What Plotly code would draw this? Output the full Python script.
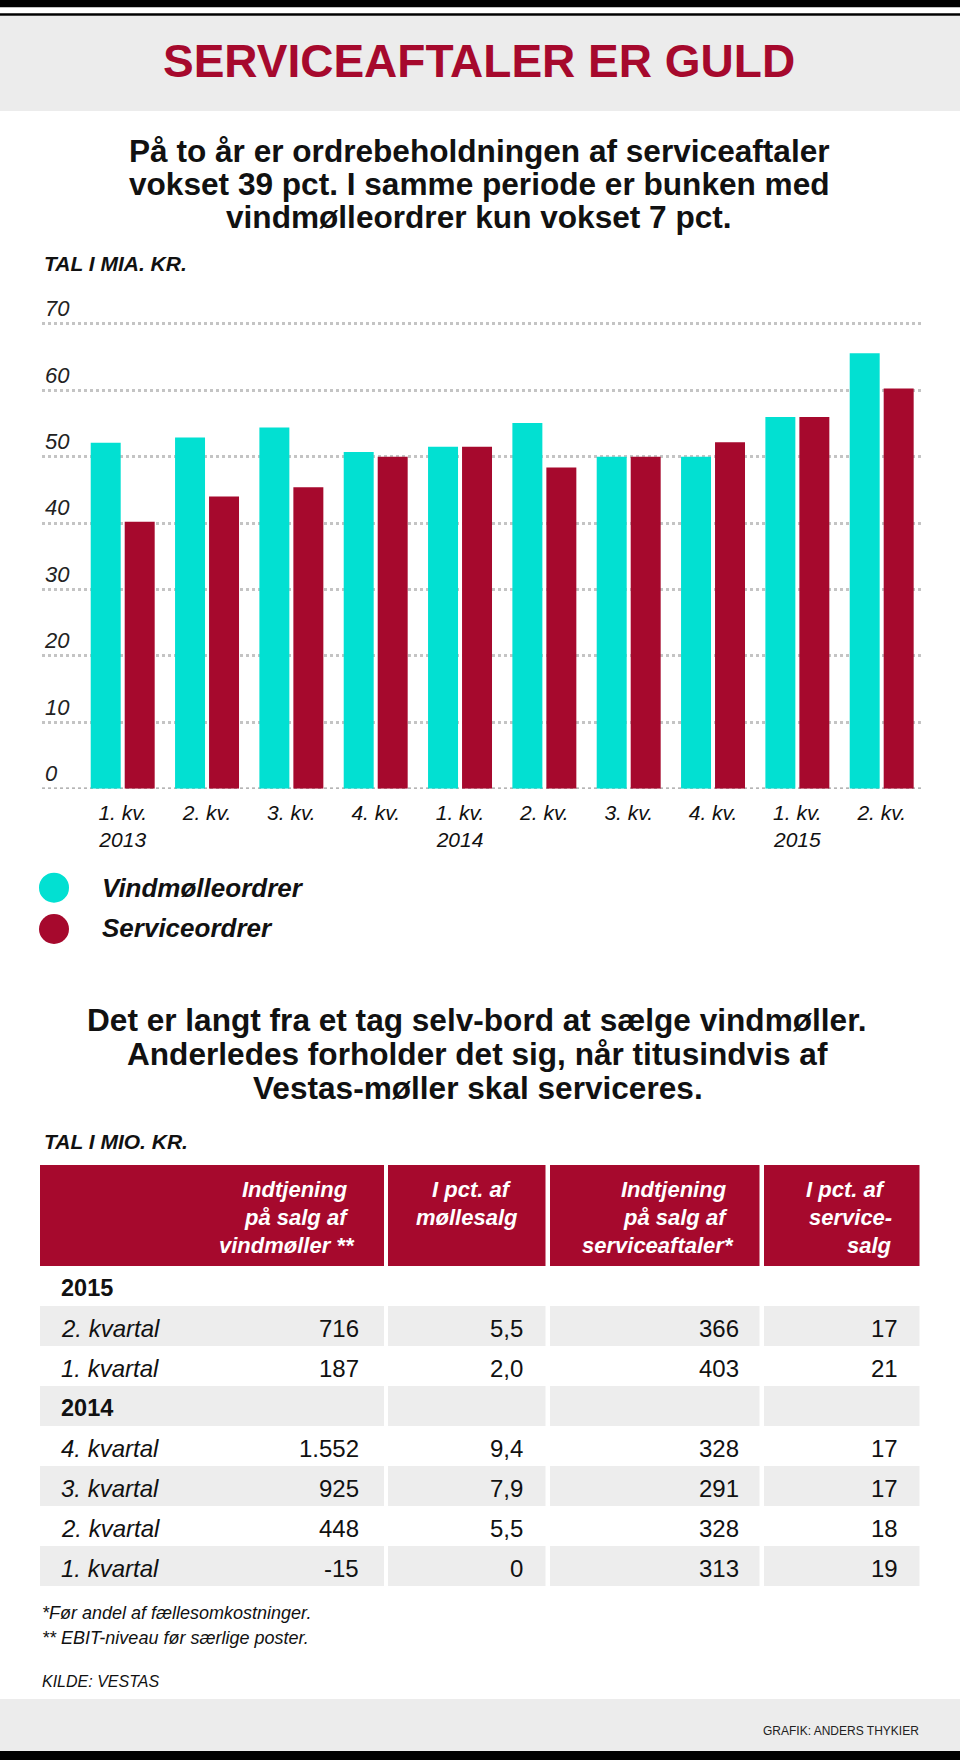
import plotly.graph_objects as go

W, H = 960, 1760
FONT = "Liberation Sans, Arial, Helvetica, sans-serif"
CYAN = "#02E0D2"
CRIMSON = "#A6092D"
BAND = "#ECECEC"
ROW_GRAY = "#EDEDED"

# ---------------- data: bar chart ----------------
quarters = ["1. kv. 2013", "2. kv. 2013", "3. kv. 2013", "4. kv. 2013",
            "1. kv. 2014", "2. kv. 2014", "3. kv. 2014", "4. kv. 2014",
            "1. kv. 2015", "2. kv. 2015"]
quarter_labels = ["1. kv.<br>2013", "2. kv.", "3. kv.", "4. kv.",
                  "1. kv.<br>2014", "2. kv.", "3. kv.", "4. kv.",
                  "1. kv.<br>2015", "2. kv."]
wind_orders = [52.1, 52.9, 54.4, 50.7, 51.5, 55.1, 50.0, 50.0, 56.0, 65.6]
service_orders = [40.2, 44.0, 45.4, 50.0, 51.5, 48.4, 50.0, 52.2, 56.0, 60.3]
y_ticks = [0, 10, 20, 30, 40, 50, 60, 70]
series_names = ["Vindmølleordrer", "Serviceordrer"]

# ---------------- data: table ----------------
header_lines = [["Indtjening", "på salg af", "vindmøller **"],
                ["I pct. af", "møllesalg"],
                ["Indtjening", "på salg af", "serviceaftaler*"],
                ["I pct. af", "service-", "salg"]]
row_labels = ["2015", "2. kvartal", "1. kvartal", "2014",
              "4. kvartal", "3. kvartal", "2. kvartal", "1. kvartal"]
row_is_year = [True, False, False, True, False, False, False, False]
wind_earnings = ["", "716", "187", "", "1.552", "925", "448", "-15"]
wind_pct = ["", "5,5", "2,0", "", "9,4", "7,9", "5,5", "0"]
service_earnings = ["", "366", "403", "", "328", "291", "328", "313"]
service_pct = ["", "17", "21", "", "17", "17", "18", "19"]


def fx(p):
    return p / W


def fy(p):
    return 1 - p / H


fig = go.Figure()

# ---------------- bars ----------------
fig.add_trace(go.Bar(x=quarters, y=wind_orders, name=series_names[0],
                     marker=dict(color=CYAN, line=dict(width=0)), showlegend=False))
fig.add_trace(go.Bar(x=quarters, y=service_orders, name=series_names[1],
                     marker=dict(color=CRIMSON, line=dict(width=0)), showlegend=False))

# ---------------- table cells: one table block per column group ----------------
n_rows = len(row_labels)
fills = ["white" if i % 2 == 0 else ROW_GRAY for i in range(n_rows)]
col_spans = [(40, 384), (387.5, 546), (549.5, 759.5), (763.5, 920)]
for x0, x1 in col_spans:
    fig.add_trace(go.Table(
        domain=dict(x=[fx(x0), fx(x1)], y=[fy(1595), fy(1165)]),
        header=dict(values=[""], fill=dict(color=CRIMSON),
                    line=dict(color=CRIMSON, width=0),
                    font=dict(family=FONT, size=10, color="white"), height=100.5),
        cells=dict(values=[[""] * n_rows], fill=dict(color=[fills]),
                   line=dict(color=[fills], width=0),
                   font=dict(family=FONT, size=10, color="#111111"), height=40),
        hoverinfo="skip",
    ))

# hidden overlay axis that carries the table rows (row index -> y)
row_idx = list(range(n_rows))
fig.add_trace(go.Scatter(x=[0] * n_rows, y=row_idx, mode="markers", xaxis="x2", yaxis="y2",
                         marker=dict(opacity=0, size=1), showlegend=False, hoverinfo="skip"))

shapes = [
    dict(type="rect", xref="paper", yref="paper", x0=0, x1=1, y0=fy(7.3), y1=fy(0),
         fillcolor="black", line=dict(width=0), layer="below"),
    dict(type="rect", xref="paper", yref="paper", x0=0, x1=1, y0=fy(15.7), y1=fy(13.3),
         fillcolor="black", line=dict(width=0), layer="below"),
    dict(type="rect", xref="paper", yref="paper", x0=0, x1=1, y0=fy(111), y1=fy(16),
         fillcolor=BAND, line=dict(width=0), layer="below"),
    dict(type="rect", xref="paper", yref="paper", x0=0, x1=1, y0=fy(1751), y1=fy(1699),
         fillcolor=BAND, line=dict(width=0), layer="below"),
    dict(type="rect", xref="paper", yref="paper", x0=0, x1=1, y0=fy(1760), y1=fy(1751),
         fillcolor="black", line=dict(width=0), layer="below"),
    dict(type="circle", xref="paper", yref="paper", x0=fx(39), x1=fx(69), y0=fy(902.7), y1=fy(872.7),
         fillcolor=CYAN, line=dict(width=0)),
    dict(type="circle", xref="paper", yref="paper", x0=fx(39), x1=fx(69), y0=fy(944), y1=fy(914),
         fillcolor=CRIMSON, line=dict(width=0)),
    dict(type="line", xref="paper", yref="y", x0=fx(42), x1=fx(922), y0=0, y1=0,
         line=dict(color="#9C9C9C", width=2.6, dash="dot"), layer="below"),
]


def ann(text, x, y_base, size, anchor="center", color="#111111", bold=False, italic=False):
    t = text
    if italic:
        t = "<i>" + t + "</i>"
    if bold:
        t = "<b>" + t + "</b>"
    return dict(text=t, xref="paper", yref="paper", x=fx(x), y=fy(y_base - 0.3465 * size),
                xanchor=anchor, yanchor="middle", showarrow=False,
                font=dict(family=FONT, size=size, color=color), borderpad=0)


annotations = [
    ann("SERVICEAFTALER ER GULD", 479, 77.3, 46, color=CRIMSON, bold=True),
    ann("På to år er ordrebeholdningen af serviceaftaler", 479, 162.0, 31.6, bold=True),
    ann("vokset 39 pct. I samme periode er bunken med", 479, 194.8, 31.6, bold=True),
    ann("vindmølleordrer kun vokset 7 pct.", 479, 228.0, 31.6, bold=True),
    ann("TAL I MIA. KR.", 42.5, 270.7, 21, anchor="left", bold=True, italic=True),
    ann(series_names[0], 101, 896.7, 26, anchor="left", bold=True, italic=True),
    ann(series_names[1], 101, 936.7, 26, anchor="left", bold=True, italic=True),
    ann("Det er langt fra et tag selv-bord at sælge vindmøller.", 477, 1030.5, 31.6, bold=True),
    ann("Anderledes forholder det sig, når titusindvis af", 477, 1064.5, 31.6, bold=True),
    ann("Vestas-møller skal serviceres.", 478, 1098.5, 31.6, bold=True),
    ann("TAL I MIO. KR.", 42.5, 1148.3, 21, anchor="left", bold=True, italic=True),
    ann("*Før andel af fællesomkostninger.", 41, 1619.3, 18, anchor="left", italic=True),
    ann("** EBIT-niveau før særlige poster.", 41, 1644, 18, anchor="left", italic=True),
    ann("KILDE: VESTAS", 41, 1687.3, 16, anchor="left", italic=True),
    ann("GRAFIK: ANDERS THYKIER", 920, 1735.5, 12, anchor="right", color="#222222"),
]

# table header texts (each line right aligned)
header_right = [[349, 350, 356], [513, 519], [727.5, 728.5, 734.5], [887, 893, 893]]
header_base = [1197.3, 1225.3, 1253.3]
for lines, rights in zip(header_lines, header_right):
    for ln, xr, yb in zip(lines, rights, header_base):
        annotations.append(ann(ln, xr, yb, 22, anchor="right", color="white", bold=True, italic=True))

# table cell texts, placed on the overlay axis (x2 in px, y2 = row index)
for i, (t, yr) in enumerate(zip(row_labels, row_is_year)):
    annotations.append(dict(text=("<b>" + t + "</b>") if yr else ("<i>" + t + "</i>"),
                            xref="x2", yref="y2", x=60, y=i, xanchor="left", yanchor="middle",
                            showarrow=False, borderpad=0,
                            font=dict(family=FONT, size=23.5 if yr else 24, color="#111111")))
for col, xr in zip((wind_earnings, wind_pct, service_earnings, service_pct),
                   (359.5, 523.8, 739.5, 898.5)):
    for i, v in enumerate(col):
        if v:
            annotations.append(dict(text=v, xref="x2", yref="y2", x=xr, y=i,
                                    xanchor="right", yanchor="middle", showarrow=False,
                                    borderpad=0, font=dict(family=FONT, size=24, color="#111111")))

fig.update_layout(
    width=W, height=H,
    margin=dict(l=0, r=0, t=0, b=0, pad=0, autoexpand=False),
    paper_bgcolor="white", plot_bgcolor="rgba(0,0,0,0)",
    font=dict(family=FONT, color="#111111"),
    barmode="group", bargap=0.194, bargroupgap=0.118,
    showlegend=False,
    shapes=shapes, annotations=annotations,
    xaxis=dict(domain=[fx(42), fx(922)], range=[-0.957, 9.478],
               tickmode="array", tickvals=quarters, ticktext=quarter_labels,
               showgrid=False, zeroline=False, showline=False, ticks="",
               ticklabelstandoff=9, automargin=False,
               tickfont=dict(family=FONT, size=21, color="#111111", style="italic")),
    yaxis=dict(domain=[fy(788.7), fy(320.0)], range=[0, 70.6],
               tickmode="array", tickvals=y_ticks,
               showgrid=True, gridcolor="#C4C4C4", gridwidth=2.6, griddash="dot",
               zeroline=False, showline=False, ticks="", automargin=False,
               ticklabelposition="inside top", ticklabeloverflow="allow",
               tickfont=dict(family=FONT, size=22, color="#222222", style="italic")),
    xaxis2=dict(domain=[0, 1], range=[0, W], visible=False, fixedrange=True, anchor="y2",
                automargin=False),
    yaxis2=dict(domain=[fy(1585.5), fy(1265.5)], range=[7.4325, -0.5675], visible=False,
                fixedrange=True, anchor="x2", automargin=False),
)

fig.write_html("out.html", post_script="document.body.style.margin='0';",
               config={"displayModeBar": False})
